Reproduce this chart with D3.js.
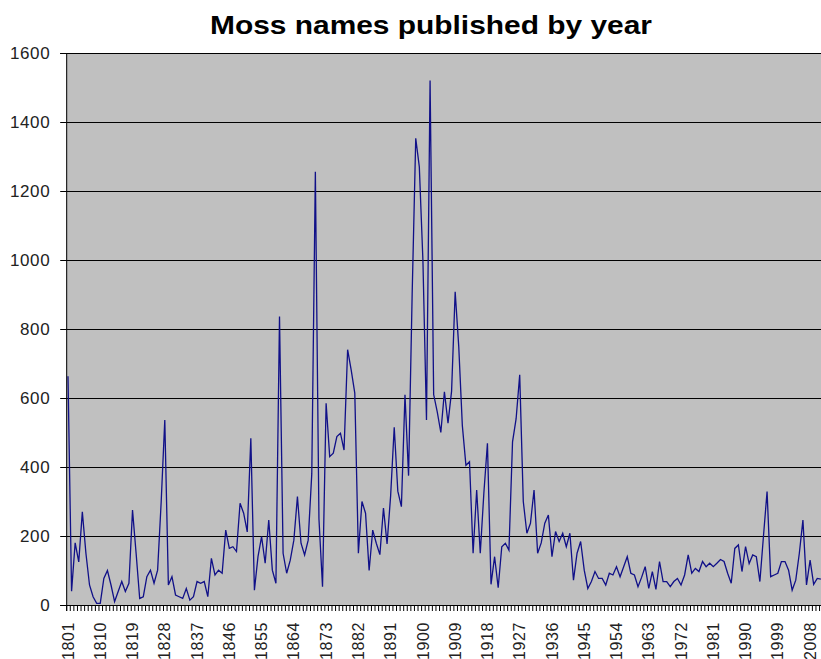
<!DOCTYPE html>
<html>
  <head>
    <meta charset="utf-8">
    <title>Moss names published by year</title>
    <style>
      body { margin: 0; background: #ffffff; }
      text { font-family: "Liberation Sans", Arial, sans-serif; }
    </style>
  </head>
  <body>
    <div id="chart"></div>
    <script src="https://d3js.org/d3.v7.min.js"></script>
    <script>

      var title = "Moss names published by year"

      // one value per year, 1801 .. 2011
      var firstYear = 1801
      var names = [
        663, 40, 180, 125, 270, 150, 58, 24, 5, 5,
        77, 100, 58, 10, 39, 68, 39, 63, 275, 150,
        19, 24, 82, 101, 63, 101, 300, 536, 58, 82,
        29, 24, 19, 48, 14, 24, 68, 63, 68, 24,
        135, 87, 101, 92, 217, 164, 169, 155, 295, 266,
        212, 483, 43, 140, 198, 121, 246, 101, 63, 836,
        150, 92, 130, 188, 314, 179, 145, 188, 380, 1256,
        250, 53, 585, 430, 440, 488, 498, 449, 740, 681,
        614, 150, 300, 266, 100, 217, 179, 146, 281, 177,
        317, 515, 330, 285, 609, 375, 900, 1353, 1270, 1000,
        536, 1520, 610, 560, 500, 618, 527, 620, 908, 749,
        520, 405, 415, 150, 333, 150, 324, 469, 60, 140,
        50, 169, 179, 159, 473, 540, 667, 300, 208, 237,
        333, 150, 180, 237, 261, 140, 213, 184, 208, 169,
        208, 72, 150, 184, 101, 48, 68, 97, 77, 77,
        58, 92, 87, 111, 82, 111, 140, 92, 87, 53,
        80, 111, 48, 97, 45, 126, 68, 68, 53, 68,
        77, 58, 87, 145, 92, 106, 97, 126, 111, 121,
        111, 121, 132, 126, 92, 63, 164, 174, 97, 169,
        120, 145, 140, 68, 200, 329, 82, 87, 92, 126,
        126, 101, 43, 72, 150, 246, 58, 130, 60, 77,
        75
      ]
      var years = names.map(function(d, i){ return firstYear + i })

      // every 9th year gets a label
      var labelYears = years.filter(function(d, i){ return i % 9 == 0 })
      var yTicks = [0, 200, 400, 600, 800, 1000, 1200, 1400, 1600]

      var width  = 821,
          height = 659;

      var margin = { top: 53, left: 66.2, bottom: 605 },
          slot   = 3.585;

      var svg = d3.select("#chart")
                  .append("svg")
                  .attr("width", width)
                  .attr("height", height)

      var x = d3.scaleBand()
                .domain(years)
                .range([margin.left, margin.left + slot * years.length])

      // same range, used for the small ticks between years
      var xEdge = d3.scaleLinear()
                .domain([0, years.length])
                .range([margin.left, margin.left + slot * years.length])

      var y = d3.scaleLinear()
                .domain([0, 1600])
                .range([margin.bottom, margin.top])

      // grey plot area
      svg.append("rect")
          .attr("x", margin.left)
          .attr("y", margin.top)
          .attr("width", slot * years.length)
          .attr("height", margin.bottom - margin.top)
          .attr("fill", "#c0c0c0")

      // gridlines
      svg.append("g")
          .selectAll("line")
          .data(yTicks.filter(function(d){ return d > 0 }))
          .enter()
          .append("line")
          .attr("x1", margin.left)
          .attr("x2", width)
          .attr("y1", function(d){ return Math.round(y(d)) + 0.5 })
          .attr("y2", function(d){ return Math.round(y(d)) + 0.5 })
          .attr("stroke", "#000")
          .attr("stroke-width", 1)

      var line = d3.line()
                   .x(function(d, i){ return x(years[i]) + x.bandwidth() / 2 })
                   .y(function(d){ return y(d) })

      svg.append("path")
          .datum(names)
          .attr("d", line)
          .attr("fill", "none")
          .attr("stroke", "#101088")
          .attr("stroke-width", 1.3)
          .attr("stroke-linejoin", "miter")

      // y axis
      var yAxis = d3.axisLeft(y)
                    .tickValues(yTicks)
                    .tickFormat(d3.format("d"))
                    .tickSize(6)
                    .tickPadding(10)
      var gY = svg.append("g")
          .attr("transform", "translate(" + margin.left + ",0)")
          .call(yAxis)
      gY.select(".domain").attr("stroke", "#000")
      gY.selectAll("line").attr("stroke", "#000")
      gY.selectAll("text")
          .style("font-size", "17px")
          .style("letter-spacing", "0.6px")
          .attr("fill", "#222")

      // x axis: small ticks on every year boundary
      var gX = svg.append("g")
          .attr("transform", "translate(0," + margin.bottom + ")")
          .call(d3.axisBottom(xEdge)
                  .tickValues(d3.range(0, years.length + 1))
                  .tickSize(6)
                  .tickFormat(""))
      gX.select(".domain").attr("stroke", "#000")
      gX.selectAll("line").attr("stroke", "#000")

      // x labels, rotated
      var gL = svg.append("g")
          .attr("transform", "translate(0," + margin.bottom + ")")
          .call(d3.axisBottom(x).tickValues(labelYears).tickSize(0))
      gL.select(".domain").remove()
      gL.selectAll("text")
          .style("font-size", "16px")
          .style("letter-spacing", "0.6px")
          .attr("fill", "#222")
          .attr("transform", "rotate(-90)")
          .attr("x", -17)
          .attr("y", 0)
          .attr("dy", "0.35em")
          .style("text-anchor", "end")

      // title: glyphs stretched a little wider, like the original
      svg.append("text")
          .attr("x", 431)
          .attr("y", 34)
          .attr("text-anchor", "middle")
          .attr("textLength", 442)
          .attr("lengthAdjust", "spacingAndGlyphs")
          .style("font-size", "25px")
          .style("font-weight", "bold")
          .text(title)

    </script>
  </body>
</html>
